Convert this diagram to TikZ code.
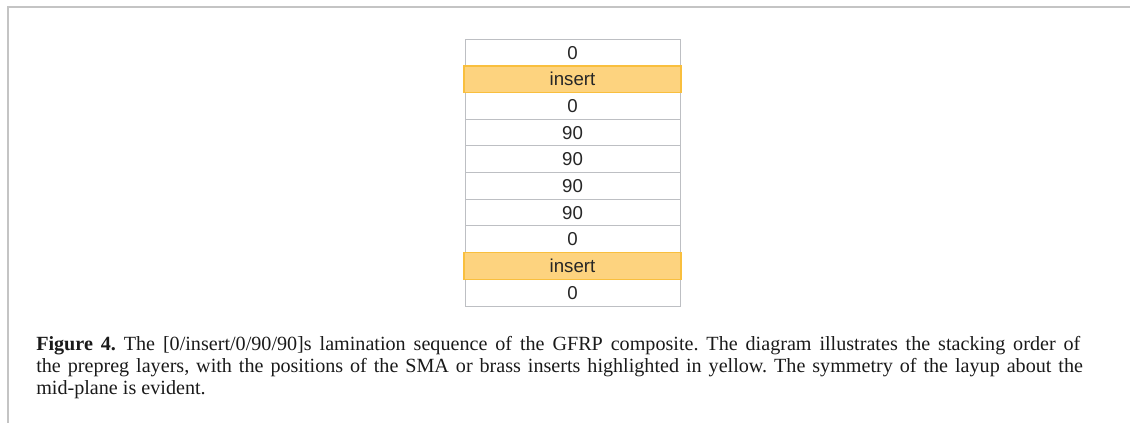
\documentclass[tikz,border=0pt]{standalone}
\usepackage{fontspec}
\setmainfont{Liberation Serif}
\newfontfamily\plyfont{Liberation Sans}
\definecolor{framegray}{HTML}{C4C4C4}
\definecolor{plyedge}{HTML}{BDBFC3}
\definecolor{insertfill}{HTML}{FDD37F}
\definecolor{insertedge}{HTML}{F9BF3E}
\definecolor{captext}{HTML}{1A1A1A}
\tikzset{
  ply/.style={draw=plyedge, line width=0.75pt, fill=white, minimum width=161.25pt,
    minimum height=20pt, inner sep=0pt, font=\plyfont\fontsize{14}{16}\selectfont, text=black!85},
  insertply/.style={ply, draw=insertedge, fill=insertfill, line width=1.1pt, minimum width=162.75pt},
  capline/.style={anchor=base west, inner sep=0pt, text=captext, font=\fontsize{15.1}{18}\selectfont}
}
\begin{document}
\frenchspacing
\begin{tikzpicture}[x=0.75pt,y=-0.75pt]
\useasboundingbox (0,0) rectangle (1130,423);
% page frame
\draw[framegray, line width=1.1pt] (8,423) -- (8,7) -- (1130,7);
% ply stack, top to bottom
\node[ply] (p1)  at (572.5, 52.67) {0};
\node[ply] (p3)  at (572.5,106.00) {0};
\node[ply] (p4)  at (572.5,132.67) {90};
\node[ply] (p5)  at (572.5,159.33) {90};
\node[ply] (p6)  at (572.5,186.00) {90};
\node[ply] (p7)  at (572.5,212.67) {90};
\node[ply] (p8)  at (572.5,239.33) {0};
\node[ply] (p10) at (572.5,292.67) {0};
\node[insertply] (p2) at (572.5, 79.33) {insert};
\node[insertply] (p9) at (572.5,266.00) {insert};
% caption
\node[capline] (cap1) at (36,351) {\makebox[783pt][s]{\textbf{Figure 4.} The [0/insert/0/90/90]s lamination sequence of the GFRP composite. The diagram illustrates the stacking order of}};
\node[capline] (cap2) at (36,372.5) {\makebox[785pt][s]{the prepreg layers, with the positions of the SMA or brass inserts highlighted in yellow. The symmetry of the layup about the}};
\node[capline] (cap3) at (36,394) {mid-plane is evident.};
\end{tikzpicture}
\end{document}
